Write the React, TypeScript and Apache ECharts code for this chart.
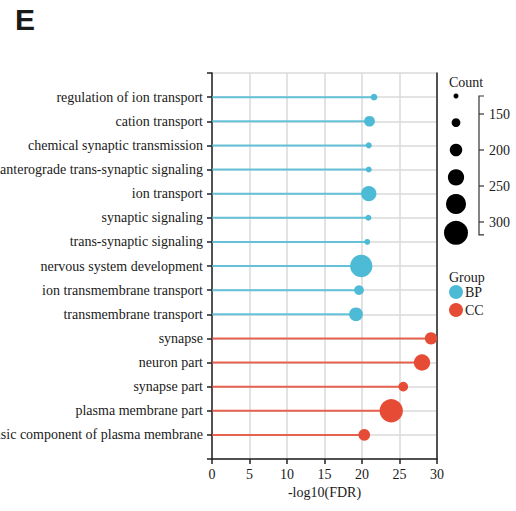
import React, { useEffect, useRef } from "react";
import * as echarts from "echarts";

const terms = [
  "regulation of ion transport",
  "cation transport",
  "chemical synaptic transmission",
  "anterograde trans-synaptic signaling",
  "ion transport",
  "synaptic signaling",
  "trans-synaptic signaling",
  "nervous system development",
  "ion transmembrane transport",
  "transmembrane transport",
  "synapse",
  "neuron part",
  "synapse part",
  "plasma membrane part",
  "intrinsic component of plasma membrane",
];
const groups = ["BP", "BP", "BP", "BP", "BP", "BP", "BP", "BP", "BP", "BP", "CC", "CC", "CC", "CC", "CC"];
const logFDR = [21.6, 21.0, 20.9, 20.9, 20.9, 20.85, 20.7, 19.9, 19.6, 19.2, 29.2, 28.0, 25.5, 23.9, 20.3];
const counts = [142, 182, 135, 135, 228, 135, 133, 298, 172, 212, 198, 238, 172, 308, 192];

const groupNames = ["BP", "CC"];
const groupColors = ["#4DBBD5", "#E64B35"];

const xTicks = { min: 0, max: 30, interval: 5 };
const sizeLegendCounts = [125, 162, 200, 238, 275, 315];
const sizeLegendTicks = [150, 200, 250, 300];
const sizeScaleRange = [125, 318];

const SERIF = "Liberation Serif";
const FS = 14;

const sizeOf = (c: number) => 5 + (c - 125) * 0.1;

export default function App() {
  const ref = useRef<HTMLDivElement>(null);
  useEffect(() => {
    if (!ref.current) return;
    const chart = echarts.init(ref.current, undefined, { renderer: "svg" });
    const yCats = ["", ...terms, ""];

    const barSeries = groupNames.map((g, gi) => ({
      type: "bar",
      name: g + " stem",
      barWidth: 2,
      barGap: "-100%",
      itemStyle: { color: groupColors[gi], opacity: 0.85 },
      data: yCats.map((t) => {
        const i = terms.indexOf(t);
        return i >= 0 && groups[i] === g ? logFDR[i] : "-";
      }),
      silent: true,
    }));

    const scatterSeries = groupNames.map((g, gi) => ({
      type: "scatter",
      name: g,
      itemStyle: { color: groupColors[gi], opacity: 1 },
      symbolSize: (v: number[]) => sizeOf(v[2]),
      data: terms
        .map((t, i) => (groups[i] === g ? [logFDR[i], t, counts[i]] : null))
        .filter((d) => d !== null),
    }));

    const scaleTop = 96;
    const pxPerCount = 0.72;
    const yOfCount = (c: number) => scaleTop + (c - sizeScaleRange[0]) * pxPerCount;
    const bracketX = 479;
    const txt = (text: string, x: number, y: number, size = FS) => ({
      type: "text",
      x,
      y,
      style: { text, fontFamily: SERIF, fontSize: size, fill: "#1a1a1a", verticalAlign: "middle" },
    });
    const graphics: any[] = [
      {
        type: "text",
        x: 15,
        y: 19,
        style: { text: "E", fontFamily: "Liberation Sans", fontWeight: "bold", fontSize: 30, fill: "#1a1a1a", verticalAlign: "middle" },
      },
      txt("Count", 449, 82),
      txt("Group", 449, 277),
      {
        type: "polyline",
        shape: {
          points: [
            [bracketX + 5, yOfCount(sizeScaleRange[0])],
            [bracketX, yOfCount(sizeScaleRange[0])],
            [bracketX, yOfCount(sizeScaleRange[1])],
            [bracketX + 5, yOfCount(sizeScaleRange[1])],
          ],
        },
        style: { stroke: "#333", lineWidth: 1.2, fill: null },
      },
    ];
    sizeLegendTicks.forEach((c) => {
      graphics.push({
        type: "line",
        shape: { x1: bracketX, y1: yOfCount(c), x2: bracketX + 5, y2: yOfCount(c) },
        style: { stroke: "#333", lineWidth: 1.2 },
      });
      graphics.push(txt(String(c), bracketX + 10, yOfCount(c)));
    });
    sizeLegendCounts.forEach((c) => {
      graphics.push({
        type: "circle",
        shape: { cx: 456, cy: yOfCount(c), r: sizeOf(c) / 2 },
        style: { fill: "#000" },
      });
    });

    chart.setOption({
      animation: false,
      backgroundColor: "#fff",
      textStyle: { fontFamily: SERIF },
      grid: { left: 212, top: 73, width: 225, height: 386, containLabel: false, outerBoundsMode: "none" },
      xAxis: {
        type: "value",
        min: xTicks.min,
        max: xTicks.max,
        interval: xTicks.interval,
        name: "-log10(FDR)",
        nameLocation: "middle",
        nameGap: 22,
        nameTextStyle: { fontFamily: SERIF, fontSize: FS, color: "#1a1a1a" },
        axisLine: { show: true, lineStyle: { color: "#222", width: 1.5 } },
        axisTick: { show: true, length: 5, lineStyle: { color: "#222", width: 1.5 } },
        axisLabel: { fontFamily: SERIF, fontSize: FS, color: "#1a1a1a", margin: 8 },
        splitLine: { show: true, lineStyle: { color: "#dadada", width: 1.5 } },
      },
      yAxis: [
        {
          type: "category",
          data: yCats,
          inverse: true,
          boundaryGap: false,
          axisLine: { show: true, lineStyle: { color: "#222", width: 1.5 } },
          axisTick: { show: true, length: 5, alignWithLabel: true, interval: 0, lineStyle: { color: "#222", width: 1.5 } },
          axisLabel: { fontFamily: SERIF, fontSize: FS, color: "#1a1a1a", margin: 9, interval: 0 },
          splitLine: { show: true, interval: 0, lineStyle: { color: "#dadada", width: 1.5 } },
        },
        {
          type: "value",
          position: "right",
          min: 0,
          max: 1,
          axisLine: { show: true, lineStyle: { color: "#222", width: 1.5 } },
          axisTick: { show: false },
          axisLabel: { show: false },
          splitLine: { show: false },
        },
      ],
      legend: {
        data: groupNames,
        orient: "vertical",
        left: 449,
        top: 285,
        icon: "circle",
        itemWidth: 14,
        itemHeight: 14,
        itemGap: 4,
        padding: 0,
        textStyle: { fontFamily: SERIF, fontSize: FS, color: "#1a1a1a", padding: [0, 0, 0, -3] },
      },
      graphic: graphics,
      series: [...barSeries, ...scatterSeries],
    });
    return () => chart.dispose();
  }, []);
  return <div ref={ref} style={{ position: "fixed", left: 0, top: 0, width: 516, height: 511 }} />;
}
